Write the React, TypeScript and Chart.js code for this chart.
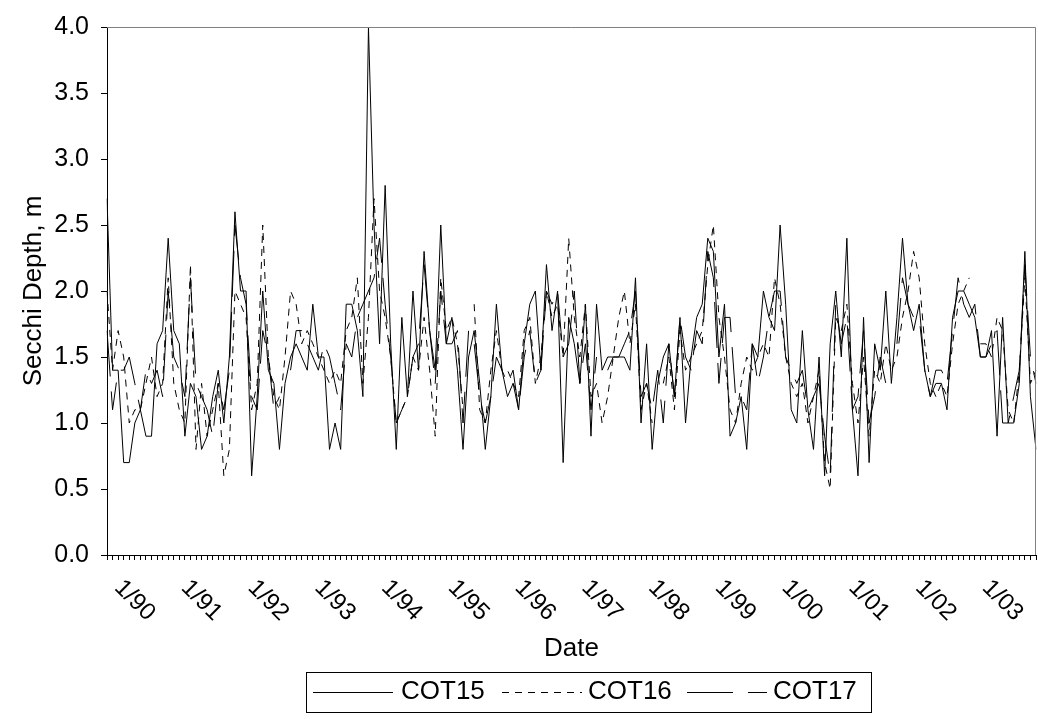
import React, { useEffect, useRef } from 'react';
import { Chart, registerables } from 'chart.js';

Chart.register(...registerables);

// Monthly categories, Nov 1989 .. Oct 2003
const START_YEAR = 1989;
const START_MONTH = 11;
const N_MONTHS = 168;
const categories: string[] = [];
for (let i = 0; i < N_MONTHS; i++) {
  const m = (START_MONTH - 1 + i) % 12;
  const y = START_YEAR + Math.floor((START_MONTH - 1 + i) / 12);
  categories.push(`${m + 1}/${String(y % 100).padStart(2, '0')}`);
}

const yearTickLabels = ['1/90', '1/91', '1/92', '1/93', '1/94', '1/95', '1/96', '1/97', '1/98', '1/99', '1/00', '1/01', '1/02', '1/03'];
const yTickValues = [0, 0.5, 1.0, 1.5, 2.0, 2.5, 3.0, 3.5, 4.0];

const seriesNames = ['COT15', 'COT16', 'COT17'];

const cot15: (number | null)[] = [
  2.7, 1.4,
  1.4, 0.7, 0.7, 1.0, 1.1, 0.9, 0.9, 1.6, 1.7, 2.4, 1.7, 1.6, // 1990
  0.9, 1.3, 1.2, 0.8, 0.9, 1.2, 1.4, 1.0, 1.5, 2.6, 2.0, 2.0, // 1991
  0.6, 1.2, 2.0, 1.4, 1.3, 0.8, 1.3, 1.5, 1.6, 1.5, 1.4, 1.9, // 1992
  1.5, 1.5, 0.8, 1.0, 0.8, 1.9, 1.9, 1.7, 1.2, 4.0, 2.5, 1.6, // 1993
  2.8, 1.6, 0.8, 1.8, 1.2, 2.0, 1.4, 2.3, 1.7, 1.4, 2.5, 1.6, // 1994
  1.8, 1.4, 0.8, 1.5, 1.7, 1.3, 0.8, 1.2, 1.9, 1.4, 1.2, 1.3, // 1995
  1.1, 1.6, 1.9, 2.0, 1.4, 2.2, 1.7, 2.0, 0.7, 1.8, 1.6, 1.3, // 1996
  1.9, 0.9, 1.9, 1.4, 1.5, 1.5, 1.5, 1.5, 1.4, 2.1, 1.0, 1.6, // 1997
  0.8, 1.3, 1.5, 1.6, 1.2, 1.8, 1.0, 1.5, 1.8, 1.9, 2.4, 2.3, // 1998
  1.5, 1.9, 0.9, 1.0, 1.2, 0.8, 1.6, 1.5, 2.0, 1.8, 1.7, 2.5, // 1999
  1.9, 1.1, 1.0, 1.7, 1.1, 0.8, 1.5, 0.6, 1.6, 2.0, 1.5, 2.4, // 2000
  1.1, 0.6, 1.8, 0.7, 1.6, 1.4, 2.0, 1.3, 1.8, 2.4, 1.9, 1.7, // 2001
  1.9, 1.4, 1.2, 1.3, 1.3, 1.1, 1.8, 2.0, 2.0, 1.9, 1.8, 1.5, // 2002
  1.5, 1.7, 0.9, 1.8, 1.0, 1.0, 1.3, 2.3, 1.2, 0.8,           // 2003
];

const cot16: (number | null)[] = [
  2.0, 1.4,
  1.7, 1.5, 1.0, 1.1, 1.1, 1.3, 1.5, 1.2, 1.3, 2.1, 1.3, 1.1, // 1990
  1.0, 2.2, 0.8, 1.3, 0.9, 1.1, 1.3, 0.6, 0.8, 2.0, 1.9, 1.8, // 1991
  1.1, 1.3, 2.5, 1.5, 1.2, 1.1, 1.5, 2.0, 1.9, 1.6, 1.7, 1.6, // 1992
  1.5, 1.4, 1.3, 1.4, 1.3, 1.7, 1.8, 2.1, 1.3, 1.8, 2.7, 2.0, // 1993
  1.8, 1.5, 1.0, 1.1, 1.2, 1.5, 1.4, 1.8, 1.4, 0.9, 2.1, 1.7, // 1994
  1.8, 1.6, 1.1, null, 1.9, 1.1, 1.0, 1.4, 1.7, 1.4, 1.4, 1.3, // 1995
  1.2, 1.7, 1.8, 1.3, 1.5, 2.0, 1.8, 1.9, 1.5, 2.4, 1.8, 1.5, // 1996
  1.9, 1.2, 1.3, 1.0, 1.2, 1.5, 1.8, 2.0, 1.6, 1.9, 1.1, 1.3, // 1997
  1.0, null, 1.3, 1.5, 1.1, 1.7, 1.4, 1.5, 1.6, 1.7, 2.2, 2.5, // 1998
  1.8, 1.5, 1.1, 1.0, 1.3, 1.5, 1.4, 1.5, 1.6, 1.5, 2.1, 1.9, // 1999
  1.5, 1.3, 1.2, 1.3, 1.0, 1.2, 1.4, 0.7, 0.5, 1.8, 1.7, 1.9, // 2000
  1.3, 1.0, 1.5, 0.9, 1.4, 1.3, 1.6, 1.4, 1.5, 1.8, 2.0, 2.3, // 2001
  2.1, 1.6, 1.3, 1.2, 1.3, 1.2, 1.6, 1.9, 2.0, 2.1, null, 1.6, // 2002
  1.6, 1.5, 1.8, 1.7, 1.1, 1.0, 1.4, 2.1, 1.3, 1.4,           // 2003
];

const cot17: (number | null)[] = [
  1.7, 1.1,
  1.4, 1.4, 1.5, 1.3, 1.1, 1.4, 1.3, 1.4, 1.2, 2.0, 1.5, 1.4, // 1990
  1.2, 2.1, 1.3, 1.2, 1.1, 0.9, 1.3, 1.1, 1.4, 2.5, 2.1, 1.9, // 1991
  1.2, 1.1, 1.7, 1.5, 1.1, 1.2, null, 1.4, 1.7, 1.7, 1.6, 1.5, // 1992
  1.4, 1.6, 1.5, 1.3, 1.1, 1.6, 1.5, 1.8, 1.9, 2.0, 2.1, 2.4, // 1993
  1.9, 1.5, 1.0, 1.1, 1.2, 1.5, 1.6, 2.2, 1.7, 1.3, 2.0, 1.6, // 1994
  1.6, 1.7, 1.0, 1.7, 1.6, 1.2, 1.0, 1.2, 1.5, 1.4, 1.3, 1.4, // 1995
  1.1, 1.5, 1.7, 1.3, 1.4, 2.0, 1.9, 2.0, 1.5, 1.6, 2.0, 1.3, // 1996
  1.6, 1.1, 1.5, null, 1.4, 1.5, 1.5, 1.6, 1.7, 2.0, 1.2, 1.3, // 1997
  1.1, 1.4, 1.0, 1.6, 1.2, 1.8, 1.5, 1.4, 1.7, 1.6, 2.3, 2.1, // 1998
  1.3, 1.8, 1.8, 1.2, 1.2, 1.1, 1.6, 1.3, 1.5, 1.8, 2.0, 2.0, // 1999
  1.5, 1.4, 1.3, 1.4, 1.1, 1.2, 1.3, 0.9, 0.6, 1.9, 1.6, 1.8, // 2000
  1.1, 1.2, 1.7, 1.0, 1.2, 1.5, 1.3, null, 1.6, 2.1, 1.9, 1.8, // 2001
  1.8, 1.4, 1.2, 1.4, 1.4, 1.3, 1.7, 2.1, 1.9, 1.8, 1.9, 1.5, // 2002
  1.5, 1.6, 1.7, 1.0, 1.0, 1.2, 1.4, 2.2, 1.5, 1.3,           // 2003
];

const dashes: number[][] = [[], [7, 6], [46, 15]];

const FONT = '"Liberation Sans", Arial, Helvetica, sans-serif';

const decorPlugin = {
  id: 'decor',
  beforeDraw(chart: any) {
    const ctx = chart.ctx;
    ctx.save();
    ctx.fillStyle = '#ffffff';
    ctx.fillRect(0, 0, chart.width, chart.height);
    ctx.restore();
  },
  afterDraw(chart: any) {
    const { ctx, chartArea: a } = chart;
    const x = chart.scales.x;
    ctx.save();
    // plot area border (top & right, gray)
    ctx.strokeStyle = '#808080';
    ctx.lineWidth = 1;
    ctx.setLineDash([]);
    ctx.beginPath();
    ctx.moveTo(a.left, a.top + 0.5);
    ctx.lineTo(a.right - 0.5, a.top + 0.5);
    ctx.lineTo(a.right - 0.5, a.bottom);
    ctx.stroke();

    // rotated year tick labels
    ctx.fillStyle = '#000';
    ctx.font = `24px ${FONT}`;
    ctx.textAlign = 'left';
    ctx.textBaseline = 'middle';
    yearTickLabels.forEach((lbl) => {
      const i = categories.indexOf(lbl);
      if (i < 0) return;
      const px = x.getPixelForValue(i);
      ctx.save();
      ctx.translate(px, a.bottom + 29);
      ctx.rotate(Math.PI / 4);
      ctx.fillText(lbl, 0, 0);
      ctx.restore();
    });

    // legend
    const boxL = 306, boxT = 672, boxW = 565, boxH = 40;
    ctx.strokeStyle = '#000';
    ctx.lineWidth = 1;
    ctx.strokeRect(boxL + 0.5, boxT + 0.5, boxW, boxH);
    const sampleX = [313, 502, 687];
    const textX = [401, 588, 773];
    const cy = boxT + 20;
    ctx.font = `26px ${FONT}`;
    chart.data.datasets.forEach((ds: any, k: number) => {
      ctx.setLineDash(ds.borderDash || []);
      ctx.beginPath();
      ctx.moveTo(sampleX[k], cy + 0.5);
      ctx.lineTo(sampleX[k] + 80, cy + 0.5);
      ctx.stroke();
      ctx.setLineDash([]);
      ctx.fillText(ds.label, textX[k], cy);
    });
    ctx.restore();
  },
};

export default function App() {
  const ref = useRef<HTMLCanvasElement | null>(null);
  useEffect(() => {
    if (!ref.current) return;
    Chart.defaults.font.family = FONT;
    const seriesData = [cot15, cot16, cot17];
    const chart = new Chart(ref.current, {
      type: 'line',
      data: {
        labels: categories,
        datasets: seriesNames.map((name, k) => ({
          label: name,
          data: seriesData[k],
          borderColor: '#000',
          borderWidth: 1,
          borderDash: dashes[k],
          pointRadius: 0,
          fill: false,
          tension: 0,
          spanGaps: false,
        })),
      },
      options: {
        animation: false,
        responsive: false,
        devicePixelRatio: 1,
        events: [],
        layout: { padding: { left: 0, top: 24, right: 2, bottom: 55 } },
        plugins: { legend: { display: false }, tooltip: { enabled: false }, title: { display: false } },
        scales: {
          x: {
            type: 'category',
            offset: false,
            grid: { drawOnChartArea: false, drawTicks: true, tickLength: 5, color: '#000', offset: false },
            border: { color: '#000', width: 1 },
            ticks: { display: false, autoSkip: false },
            title: { display: true, text: 'Date', color: '#000', font: { size: 26 }, padding: { top: 0, bottom: 0 } },
            afterFit: (s: any) => { s.height = 109; },
          },
          y: {
            min: 0,
            max: 4,
            afterBuildTicks: (s: any) => { s.ticks = yTickValues.map((v) => ({ value: v })); },
            ticks: { color: '#000', font: { size: 25 }, padding: 12, callback: (v: any) => Number(v).toFixed(1) },
            grid: { drawOnChartArea: false, drawTicks: true, tickLength: 6, color: '#000' },
            border: { color: '#000', width: 1 },
            title: { display: true, text: 'Secchi Depth, m', color: '#000', font: { size: 26 }, padding: { top: 18, bottom: 0 } },
            afterFit: (s: any) => { s.width = 107; },
          },
        },
      },
      plugins: [decorPlugin],
    });
    return () => chart.destroy();
  }, []);
  return (
    <div style={{ position: 'absolute', left: 0, top: 0, width: 1038, height: 719 }}>
      <canvas ref={ref} width={1038} height={719} style={{ display: 'block' }} />
    </div>
  );
}
